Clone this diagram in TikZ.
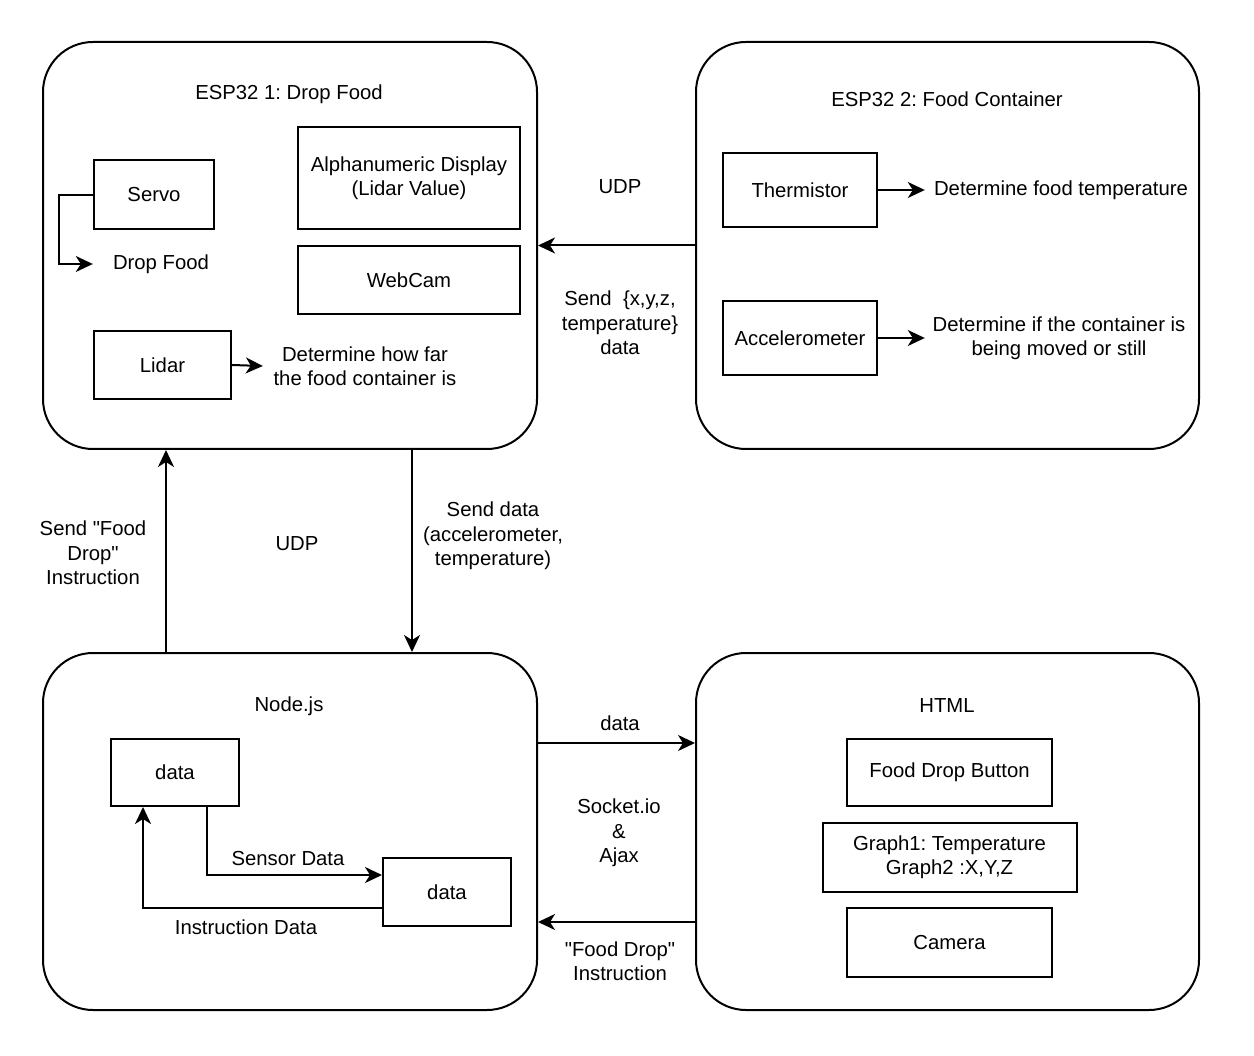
\documentclass[tikz,border=0pt]{standalone}
\usepackage{fontspec}
\setmainfont{Liberation Sans}[Ligatures=TeXOff]
\usetikzlibrary{arrows.meta}
\begin{document}
\frenchspacing
\begin{tikzpicture}[x=1pt,y=-1pt,
  every node/.style={font=\fontsize{20.3}{24.4}\selectfont\frenchspacing, text=black},
  bigbox/.style={draw, line width=2pt, rounded corners=50pt, inner sep=0pt},
  partbox/.style={draw, line width=2pt, inner sep=0pt, align=center},
  lbl/.style={inner sep=0pt, align=center},
  arr/.style={line width=2pt, -{Stealth[length=17pt,width=16pt,inset=5pt]}}]
\useasboundingbox (0,0) rectangle (1254,1056);

% big boxes
\node[bigbox, minimum width=494pt, minimum height=407pt] (esp1) at (290,245.5) {};
\node[bigbox, minimum width=503pt, minimum height=407pt] (esp2) at (947.5,245.5) {};
\node[bigbox, minimum width=494pt, minimum height=357pt] (nodejs) at (290,831.5) {};
\node[bigbox, minimum width=503pt, minimum height=357pt] (html) at (947.5,831.5) {};

% titles
\node[lbl] (t1) at (289,94) {ESP32 1: Drop Food};
\node[lbl] (t2) at (947,99) {ESP32 2: Food Container};
\node[lbl] (t3) at (289,706) {Node.js};
\node[lbl] (t4) at (947,706) {HTML};

% ESP32 1 parts
\node[partbox, minimum width=120pt, minimum height=69pt] (servo) at (154,195) {Servo};
\node[partbox, minimum width=222pt, minimum height=102pt] (alpha) at (409,178) {Alphanumeric Display\\(Lidar Value)};
\node[partbox, minimum width=222pt, minimum height=68pt] (webcam) at (409,280) {WebCam};
\node[partbox, minimum width=137pt, minimum height=68pt] (lidar) at (162.5,365) {Lidar};
\node[lbl, minimum width=136pt] (dropfood) at (161,264) {Drop Food};
\node[lbl, minimum width=204pt] (howfar) at (365,366) {Determine how far\\the food container is};
\draw[arr] (servo.west) -- ++(-34,0) |- (dropfood.west);
\draw[arr] (lidar.east) -- (howfar.west);

% ESP32 2 parts
\node[partbox, minimum width=154pt, minimum height=74pt] (therm) at (800,190) {Thermistor};
\node[partbox, minimum width=154pt, minimum height=74pt] (accel) at (800,338) {Accelerometer};
\node[lbl, minimum width=272pt] (temp) at (1061,190) {Determine food temperature};
\node[lbl, minimum width=268pt] (moved) at (1059,338) {Determine if the container is\\being moved or still};
\draw[arr] (therm.east) -- (temp.west);
\draw[arr] (accel.east) -- (moved.west);

% Node.js parts
\node[partbox, minimum width=128pt, minimum height=67pt] (data1) at (175,772.5) {data};
\node[partbox, minimum width=128pt, minimum height=68pt] (data2) at (447,892) {data};
\draw[arr] ([xshift=32pt]data1.south) |- ([yshift=17pt]data2.west);
\draw[arr] ([yshift=-16pt]data2.west) -| ([xshift=-32pt]data1.south);
\node[lbl] (sensorlbl) at (288,859) {Sensor Data};
\node[lbl] (instrlbl) at (246,927) {Instruction Data};

% HTML parts
\node[partbox, minimum width=205pt, minimum height=67pt] (button) at (949.5,772.5) {Food Drop Button};
\node[partbox, minimum width=254pt, minimum height=69pt] (graph) at (949.5,857.5) {Graph1: Temperature\\Graph2 :X,Y,Z};
\node[partbox, minimum width=205pt, minimum height=69pt] (camera) at (949.5,942.5) {Camera};

% connectors between big boxes
\draw[arr] (esp2.west) -- (esp1.east);
\draw[arr] ([xshift=124pt]nodejs.north west) -- ([xshift=124pt]esp1.south west);
\draw[arr] ([xshift=370pt]esp1.south west) -- ([xshift=370pt]nodejs.north west);
\draw[arr] ([yshift=88.5pt]nodejs.east) -- ([yshift=88.5pt]html.west);
\draw[arr] ([yshift=-90.5pt]html.west) -- ([yshift=-90.5pt]nodejs.east);

% connector labels
\node[lbl] (udp1) at (620,187) {UDP};
\node[lbl] (sendxyz) at (620,323) {Send\ \ \{x,y,z,\\temperature\}\\data};
\node[lbl] (udp2) at (297,544) {UDP};
\node[lbl] (sendfood) at (93,553) {Send "Food\\Drop"\\Instruction};
\node[lbl] (senddata) at (493,536) {Send data\\(accelerometer,\\temperature)};
\node[lbl] (datalbl) at (620,723) {data};
\node[lbl] (socket) at (619,833) {Socket.io\\\&\\Ajax};
\node[lbl] (fdinstr) at (620,961) {"Food Drop"\\Instruction};
\end{tikzpicture}
\end{document}
